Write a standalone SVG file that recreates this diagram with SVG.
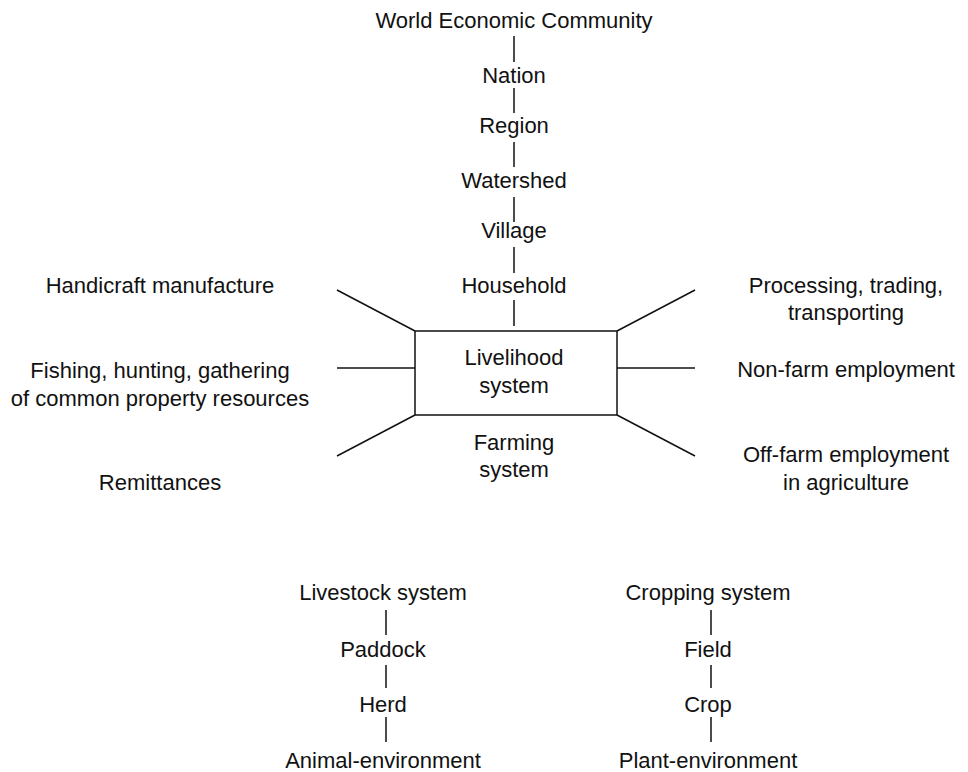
<svg xmlns="http://www.w3.org/2000/svg" width="968" height="772" viewBox="0 0 968 772">
<style>
text{font-family:"Liberation Sans",Arial,sans-serif;font-size:22px;fill:#111;text-anchor:middle}
line,.box{stroke:#111;stroke-width:1.5;fill:none}
</style>
<rect width="968" height="772" fill="#fff"/>
<g id="connectors">
<line x1="514" y1="36" x2="514" y2="62"/>
<line x1="514" y1="88" x2="514" y2="113"/>
<line x1="514" y1="142" x2="514" y2="167"/>
<line x1="514" y1="197" x2="514" y2="222"/>
<line x1="514" y1="247" x2="514" y2="273"/>
<line x1="514" y1="300" x2="514" y2="326"/>
<line x1="337" y1="290" x2="415" y2="331"/>
<line x1="337" y1="368" x2="415" y2="368"/>
<line x1="337" y1="456" x2="415" y2="415"/>
<line x1="617" y1="331" x2="695" y2="290"/>
<line x1="617" y1="368" x2="695" y2="368"/>
<line x1="617" y1="415" x2="695" y2="456"/>
<line x1="386" y1="610" x2="386" y2="635"/>
<line x1="386" y1="665" x2="386" y2="688"/>
<line x1="386" y1="717" x2="386" y2="742"/>
<line x1="711" y1="610" x2="711" y2="635"/>
<line x1="711" y1="665" x2="711" y2="688"/>
<line x1="711" y1="717" x2="711" y2="742"/>
</g>
<g id="world"><text x="514" y="28">World Economic Community</text></g>
<g id="nation"><text x="514" y="83">Nation</text></g>
<g id="region"><text x="514" y="133">Region</text></g>
<g id="watershed"><text x="514" y="188">Watershed</text></g>
<g id="village"><text x="514" y="238">Village</text></g>
<g id="household"><text x="514" y="293">Household</text></g>
<g id="livelihood"><rect class="box" x="415" y="331" width="202" height="84"/><text x="514" y="365">Livelihood</text><text x="514" y="393">system</text></g>
<g id="farming"><text x="514" y="450">Farming</text><text x="514" y="477">system</text></g>
<g id="handicraft"><text x="160" y="293">Handicraft manufacture</text></g>
<g id="fishing"><text x="160" y="378">Fishing, hunting, gathering</text><text x="160" y="406">of common property resources</text></g>
<g id="remittances"><text x="160" y="490">Remittances</text></g>
<g id="processing"><text x="846" y="293">Processing, trading,</text><text x="846" y="320">transporting</text></g>
<g id="nonfarm"><text x="846" y="377">Non-farm employment</text></g>
<g id="offfarm"><text x="846" y="462">Off-farm employment</text><text x="846" y="490">in agriculture</text></g>
<g id="livestock"><text x="383" y="600">Livestock system</text></g>
<g id="paddock"><text x="383" y="657">Paddock</text></g>
<g id="herd"><text x="383" y="712">Herd</text></g>
<g id="animal"><text x="383" y="768">Animal-environment</text></g>
<g id="cropping"><text x="708" y="600">Cropping system</text></g>
<g id="field"><text x="708" y="657">Field</text></g>
<g id="crop"><text x="708" y="712">Crop</text></g>
<g id="plant"><text x="708" y="768">Plant-environment</text></g>
</svg>
